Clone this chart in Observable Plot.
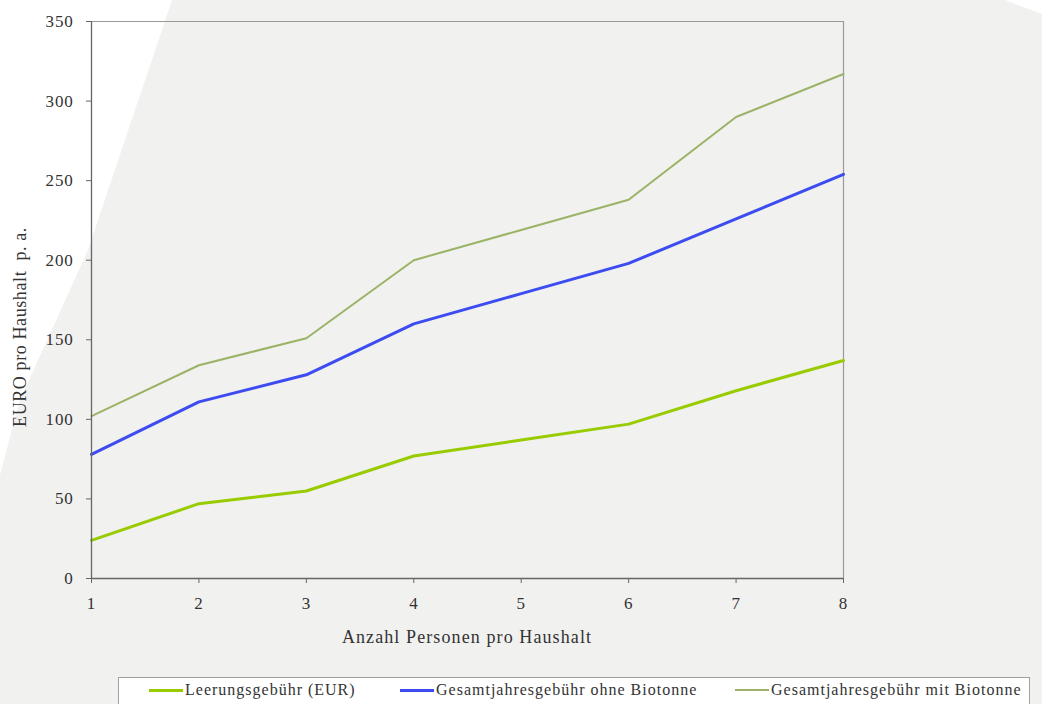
<!DOCTYPE html>
<html><head><meta charset="utf-8">
<script src="https://cdn.jsdelivr.net/npm/d3@7"></script>
<script src="https://cdn.jsdelivr.net/npm/@observablehq/plot@0.6"></script>
<style>
html,body{margin:0;padding:0;width:1042px;height:704px;overflow:hidden;background:#f1f1f0;font-family:"Liberation Serif",serif;}
#bg1,#bg2{position:absolute;left:0;top:0;width:1042px;height:704px;background:#fff;}
#bg1{clip-path:polygon(0 0,172px 0,88px 250px,20px 400px,0 475px);}
#bg2{clip-path:polygon(1005px 0,1042px 0,1042px 14px);}
#chart{position:absolute;left:0;top:0;}
#ylabel{position:absolute;left:20px;top:327px;transform:translate(-50%,-50%) rotate(-90deg);white-space:pre;font-size:18px;letter-spacing:0.6px;color:#333;font-family:"Liberation Serif",serif;}
#xlabel{position:absolute;left:467px;top:637px;transform:translate(-50%,-50%);white-space:nowrap;font-size:18px;letter-spacing:1.1px;color:#333;font-family:"Liberation Serif",serif;}
#legend{position:absolute;left:118px;top:677px;width:912px;height:40px;background:#fff;border:1px solid #a0a0a0;box-sizing:border-box;font-size:16px;letter-spacing:1px;color:#333;font-family:"Liberation Serif",serif;}
.item{position:absolute;top:3px;display:flex;align-items:center;white-space:nowrap;}
.sw{display:inline-block;width:34px;height:3px;margin-right:2px;}
</style></head>
<body>
<div id="bg1"></div><div id="bg2"></div>
<div id="chart"></div>
<div id="ylabel"></div>
<div id="xlabel"></div>
<div id="legend"></div>
<script>
const persons = [1,2,3,4,5,6,7,8];
const seriesNames = ["Leerungsgebühr (EUR)","Gesamtjahresgebühr ohne Biotonne","Gesamtjahresgebühr mit Biotonne"];
const leerung = [24,47,55,77,87,97,118,137];
const ohneBio = [78,111,128,160,179,198,226,254];
const mitBio = [102,134,151,200,219,238,290,317];
const yTicks = [0,50,100,150,200,250,300,350];
const xTitle = "Anzahl Personen pro Haushalt";
const yTitle = "EURO pro Haushalt  p. a.";
const colors = ["#99cc00","#3c4cf0","#9bb366"];
const widths = [3,3,2];

const valuesList = [leerung, ohneBio, mitBio];
const data = [];
valuesList.forEach((vals,i)=>vals.forEach((v,j)=>data.push({series:seriesNames[i], x:persons[j], y:v})));

const W=1042, H=660;
const plot = Plot.plot({
  width: W, height: H,
  marginLeft: 91, marginRight: 199, marginTop: 21, marginBottom: 82,
  style: {background:"transparent", fontFamily:"Liberation Serif, serif", fontSize:"17px", color:"#333", letterSpacing:"0.8px"},
  x: {domain:[1,8], label:null},
  y: {domain:[0,350], label:null},
  marks: [
    Plot.ruleY([350], {stroke:"#9a9a9a", strokeWidth:1.2}),
    Plot.ruleX([8], {stroke:"#9a9a9a", strokeWidth:1.2}),
    ...seriesNames.map((s,i)=>Plot.line(data.filter(d=>d.series===s), {x:"x", y:"y", stroke: colors[i], strokeWidth: widths[i]})),
    Plot.ruleY([0], {stroke:"#666", strokeWidth:1.3}),
    Plot.ruleX([1], {stroke:"#666", strokeWidth:1.3}),
    Plot.axisX({ticks: persons, tickFormat: d=>String(d), label:null, tickSize:5, tickPadding:13, stroke:"#666", fontSize:17, fontFamily:"Liberation Serif, serif"}),
    Plot.axisY({ticks: yTicks, tickFormat: d=>String(d), label:null, tickSize:5, tickPadding:13, stroke:"#666", fontSize:17, fontFamily:"Liberation Serif, serif"})
  ]
});
document.getElementById("chart").appendChild(plot);
document.getElementById("xlabel").textContent = xTitle;
document.getElementById("ylabel").textContent = yTitle;

const legend = document.getElementById("legend");
const lefts = [30, 281, 616];
seriesNames.forEach((s,i)=>{
  const it = document.createElement("div");
  it.className="item"; it.style.left = lefts[i]+"px";
  const sw = document.createElement("span"); sw.className="sw"; sw.style.background=colors[i];
  sw.style.height = widths[i]+"px";
  it.appendChild(sw);
  it.appendChild(document.createTextNode(s));
  legend.appendChild(it);
});
</script>
</body></html>
